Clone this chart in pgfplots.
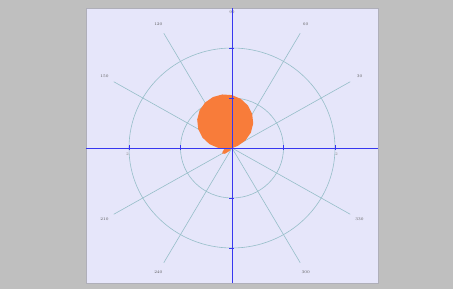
\documentclass[border=0pt]{standalone}
\usepackage{pgfplots}
\pgfplotsset{compat=1.18}
\definecolor{outergray}{RGB}{191,191,191}
\definecolor{panel}{RGB}{230,230,250}
\definecolor{panelborder}{RGB}{175,175,185}
\definecolor{gridc}{RGB}{150,190,200}
\definecolor{axblue}{RGB}{55,55,240}
\definecolor{orangefill}{RGB}{248,124,58}
\begin{document}
\begin{tikzpicture}[x=1pt,y=1pt]
\useasboundingbox (0,0) rectangle (453,289);
\fill[outergray] (0,0) rectangle (453,289);
\fill[panel] (86,6) rectangle (378,281);
\draw[panelborder, line width=0.5pt] (86,6) rectangle (378,281);
\begin{axis}[
  at={(86pt,6pt)}, anchor=south west,
  scale only axis, width=292pt, height=275pt,
  xmin=-2.835, xmax=2.835, ymin=-2.7, ymax=2.8,
  axis lines=middle,
  axis line style={draw=axblue, line width=0.8pt, -},
  xtick={-2,-1,1,2}, ytick={-2,-1,1,2},
  xticklabels={}, yticklabels={},
  tick align=center, major tick length=5pt,
  tick style={draw=axblue, line width=0.5pt},
  clip=false,
  axis on top,
]
\draw[gridc, line width=0.6pt] (axis cs:0,0) ellipse [x radius=1, y radius=1];
\draw[gridc, line width=0.6pt] (axis cs:0,0) ellipse [x radius=2, y radius=2];
\pgfplotsinvokeforeach{30,60,120,150,210,240,300,330}{
  \draw[gridc, line width=0.6pt] (axis cs:0,0) -- (axis cs:{2.65*cos(#1)},{2.65*sin(#1)});
  \node[font=\fontsize{4}{4}\selectfont, text=black!65, inner sep=0pt] at (axis cs:{2.86*cos(#1)},{2.86*sin(#1)}) {#1};
}
\node[font=\fontsize{4}{4}\selectfont, text=black!65, inner sep=0pt] at (axis cs:0,2.72) {90};
\node[font=\fontsize{4}{4}\selectfont, text=black!45, inner sep=0pt] at (axis cs:-2.03,-0.12) {2};
\node[font=\fontsize{4}{4}\selectfont, text=black!45, inner sep=0pt] at (axis cs:2.03,-0.12) {2};
\addplot[fill=orangefill, draw=none, data cs=polar] coordinates {
(10,0) (20,0.114) (30,0.300) (40,0.478) (50,0.641) (60,0.784) (70,0.904) (80,0.996)
(90,1.058) (100,1.087) (110,1.084) (120,1.048) (130,0.980) (140,0.882) (150,0.757)
(160,0.610) (170,0.443) (180,0.264) (190,0.15) (200,0.19) (210,0.22) (220,0.18) (230,0.08) (240,0)
} -- cycle;
\end{axis}
\end{tikzpicture}
\end{document}
